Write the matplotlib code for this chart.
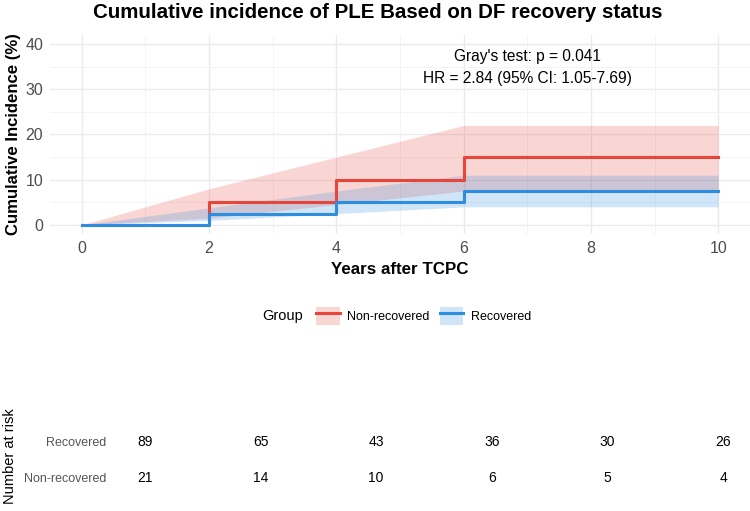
import matplotlib
matplotlib.use('Agg')
from matplotlib import pyplot as plt
from matplotlib.lines import Line2D
from matplotlib.patches import Patch

plt.rcParams['font.family'] = ['Liberation Sans', 'DejaVu Sans']

# %% data
times = [0, 2, 4, 6, 10]
ci_nonrec = [0, 5, 10, 15, 15]
lo_nonrec = [0, 1.5, 4.5, 7.5, 7.5]
hi_nonrec = [0, 8, 15, 22, 22]
ci_rec = [0, 2.5, 5, 7.5, 7.5]
lo_rec = [0, 1, 2.5, 4, 4]
hi_rec = [0, 3.8, 7.5, 11, 11]

risk_times = [0, 2, 4, 6, 8, 10]
risk_rec = [89, 65, 43, 36, 30, 26]
risk_nonrec = [21, 14, 10, 6, 5, 4]

red = '#E5453A'
blue = '#2D8DDF'
W, H = 750, 511


def box(l, t, r, b):
    return [l / W, 1 - b / H, (r - l) / W, (b - t) / H]


# %% main plot
fig = plt.figure(figsize=(W / 100, H / 100), dpi=100)
ax = fig.add_axes(box(50, 35, 750, 234))

ax.fill_between(times, lo_nonrec, hi_nonrec, color=red, alpha=0.22, lw=0)
ax.fill_between(times, lo_rec, hi_rec, color=blue, alpha=0.22, lw=0)
ax.step(times, ci_nonrec, where='post', color=red, lw=2.2)
ax.step(times, ci_rec, where='post', color=blue, lw=2.2)

ax.set_xlim(-0.5, 10.5)
ax.set_ylim(-2, 42)
ax.set_xticks(range(0, 11, 2))
ax.set_xticks(range(1, 10, 2), minor=True)
ax.set_yticks(range(0, 41, 10))
ax.set_yticks(range(5, 40, 10), minor=True)
ax.grid(which='major', color='#EBEBEB', lw=1.0)
ax.grid(which='minor', color='#F3F3F3', lw=0.6)
ax.set_axisbelow(True)
for s in ax.spines.values():
    s.set_visible(False)
ax.tick_params(which='both', length=0, labelsize=11.5, labelcolor='#4D4D4D', pad=5)
ax.set_xlabel('Years after TCPC', fontsize=12.2, fontweight='bold', labelpad=4)
ax.set_ylabel('Cumulative Incidence (%)', fontsize=12.1, fontweight='bold', labelpad=3)

ax.text(7.0, 37.2, "Gray's test: p = 0.041", ha='center', va='center', fontsize=11.2)
ax.text(7.0, 32.3, 'HR = 2.84 (95% CI: 1.05-7.69)', ha='center', va='center', fontsize=11.2)

fig.text(378 / W, 1 - 12 / H, 'Cumulative incidence of PLE Based on DF recovery status',
         ha='center', va='center', fontsize=14.8, fontweight='bold')

# %% legend
fig.text(262 / W, 1 - 316 / H, 'Group', ha='left', va='center', fontsize=10.5)
handles = [
    (Patch(facecolor=red, alpha=0.22, lw=0), Line2D([], [], color=red, lw=2.2)),
    (Patch(facecolor=blue, alpha=0.22, lw=0), Line2D([], [], color=blue, lw=2.2)),
]
fig.legend(handles, ['Non-recovered', 'Recovered'], loc='center left',
           bbox_to_anchor=(316 / W, 1 - 316 / H), ncol=2, frameon=False,
           fontsize=9, handlelength=1.9, handleheight=1.9, handletextpad=0.6,
           columnspacing=0.8, borderpad=0, borderaxespad=0)

# %% risk table
rt = fig.add_axes(box(116, 424, 752, 496))
rt.set_xlim(-0.5, 10.5)
rt.set_ylim(0.5, 2.5)
for t, a, b in zip(risk_times, risk_rec, risk_nonrec):
    rt.text(t, 2, str(a), ha='center', va='center', fontsize=10)
    rt.text(t, 1, str(b), ha='center', va='center', fontsize=10)
rt.set_xticks([])
rt.set_yticks([1, 2])
rt.set_yticklabels(['Non-recovered', 'Recovered'])
rt.tick_params(length=0, pad=7, labelsize=9, labelcolor='#555555')
for s in rt.spines.values():
    s.set_visible(False)
fig.text(10 / W, 1 - 456 / H, 'Number at risk', rotation=90, ha='center', va='center',
         fontsize=10.5)

fig.savefig('out.png', dpi=100)
